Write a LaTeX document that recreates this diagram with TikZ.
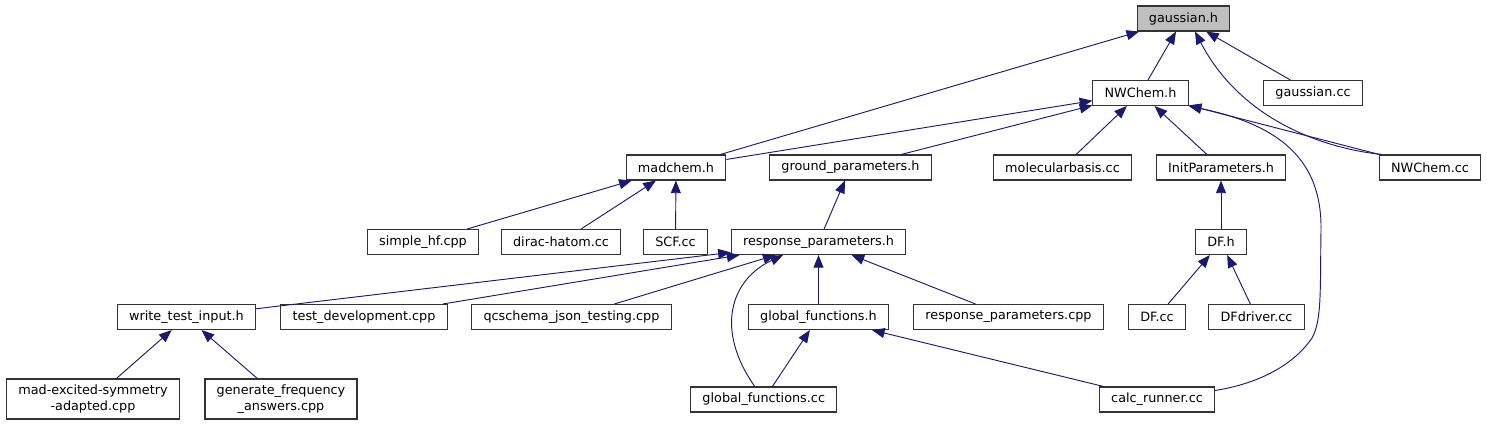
\documentclass[tikz,border=0pt]{standalone}
\usepackage{fontspec}
\setmainfont{DejaVu Sans}
\usetikzlibrary{calc, arrows.meta}
\definecolor{edgeblue}{HTML}{191970}
\definecolor{rootgray}{HTML}{BFBFBF}
\tikzset{
  file node/.style={draw=black!80, line width=0.8pt, fill=white, inner xsep=8.8pt, inner ysep=2pt, minimum height=18.75pt, font=\fontsize{9.6}{11.8}\selectfont},
  root file/.style={file node, fill=rootgray},
  two line/.style={align=center, minimum height=30pt},
  include edge/.style={->, line width=0.7pt, edgeblue},
  >={Triangle[length=9.5pt, width=7.5pt]},
}

\begin{document}
\begin{tikzpicture}[x=0.75pt, y=-0.75pt]
  \useasboundingbox (0,0) rectangle (1487,425);
  % header and the files that include it
  \node[root file] (gh) at (1183.5,18.5) {gaussian.h};
  \node[file node] (nwh) at (1140.5,93) {NWChem.h};
  \node[file node] (gcc) at (1313,93) {gaussian.cc};
  \node[file node] (mch) at (676,167.5) {madchem.h};
  \node[file node] (gph) at (850.5,167.5) {ground\_parameters.h};
  \node[file node] (mbc) at (1062.5,167.5) {molecularbasis.cc};
  \node[file node] (iph) at (1221,167.5) {InitParameters.h};
  \node[file node] (ncc) at (1430,167.5) {NWChem.cc};
  \node[file node] (shf) at (423,242) {simple\_hf.cpp};
  \node[file node] (dha) at (561,242) {dirac-hatom.cc};
  \node[file node] (scf) at (675.5,242) {SCF.cc};
  \node[file node] (rph) at (818.5,242) {response\_parameters.h};
  \node[file node] (dfh) at (1221,242) {DF.h};
  \node[file node] (wti) at (186.5,317) {write\_test\_input.h};
  \node[file node] (tdc) at (364,317) {test\_development.cpp};
  \node[file node] (qjt) at (571.5,317) {qcschema\_json\_testing.cpp};
  \node[file node] (gfh) at (818.5,317) {global\_functions.h};
  \node[file node] (rpc) at (1008.5,317) {response\_parameters.cpp};
  \node[file node] (dfc) at (1157,317) {DF.cc};
  \node[file node] (dfd) at (1256.5,317) {DFdriver.cc};
  \node[file node, two line] (mes) at (93,399) {mad-excited-symmetry\\-adapted.cpp};
  \node[file node, two line] (gfa) at (281,399) {generate\_frequency\\\_answers.cpp};
  \node[file node] (gfc) at (763.75,399.5) {global\_functions.cc};
  \node[file node] (crc) at (1157,399.5) {calc\_runner.cc};

  % include edges
  \draw[include edge] (nwh) -- (gh);
  \draw[include edge] (mch) -- (gh);
  \draw[include edge] (gcc) -- (gh);
  \draw[include edge] ($(ncc.north west)+(3,0)$) .. controls (1320,148) and (1240,118) .. ($(gh.south)+(11.5,0)$);
  \draw[include edge] (mch) -- (nwh);
  \draw[include edge] (gph) -- (nwh);
  \draw[include edge] (mbc) -- (nwh);
  \draw[include edge] (iph) -- (nwh);
  \draw[include edge] (ncc) -- (nwh);
  \draw[include edge] ($(crc.north east)+(0,4)$) .. controls (1250,385) and (1290,370) .. (1312,338)
    .. controls (1322,320) and (1320,290) .. (1321,230) .. controls (1322,160) and (1280,125) .. (nwh.south east);
  \draw[include edge] (shf) -- (mch);
  \draw[include edge] (dha) -- (mch);
  \draw[include edge] (scf) -- (mch);
  \draw[include edge] (rph) -- (gph);
  \draw[include edge] (dfh) -- (iph);
  \draw[include edge] (dfc) -- (dfh);
  \draw[include edge] (dfd) -- (dfh);
  \draw[include edge] (wti) -- (rph);
  \draw[include edge] (tdc) -- (rph);
  \draw[include edge] (qjt) -- (rph);
  \draw[include edge] (gfh) -- (rph);
  \draw[include edge] (rpc) -- (rph);
  \draw[include edge] ($(gfc.north)+(-9,0)$) .. controls (715,330) and (730,280) .. ($(rph.south)+(-35.5,0)$);
  \draw[include edge] (mes) -- (wti);
  \draw[include edge] (gfa) -- (wti);
  \draw[include edge] (gfc) -- (gfh);
  \draw[include edge] (crc) -- (gfh);
\end{tikzpicture}
\end{document}
